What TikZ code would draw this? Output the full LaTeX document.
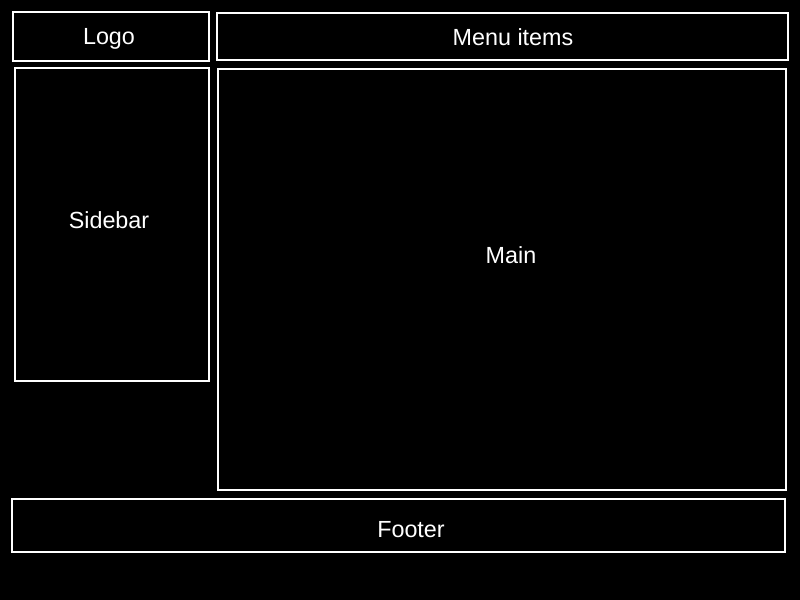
\documentclass[tikz,border=0pt]{standalone}
\usepackage{fontspec}
\setmainfont{Liberation Sans}
\begin{document}
\begin{tikzpicture}[x=0.75pt,y=-0.75pt,
  frame/.style={draw=white,line width=1.5pt,inner sep=0pt,outer sep=0pt},
  lbl/.style={text=white,font=\fontsize{17.5}{20}\selectfont,inner sep=0pt,anchor=base}]
\fill[black] (0,0) rectangle (800,600);
\useasboundingbox (0,0) rectangle (800,600);
\draw[frame] (13,12) rectangle (209,61);
\draw[frame] (217,13) rectangle (788,60);
\draw[frame] (15,68) rectangle (209,381);
\draw[frame] (218,69) rectangle (786,490);
\draw[frame] (12,499) rectangle (785,552);
\node[lbl] (logo) at (109,44) {Logo};
\node[lbl] (menu) at (513,45) {Menu items};
\node[lbl] (sidebar) at (109,228.5) {Sidebar};
\node[lbl] (main) at (511,263.5) {Main};
\node[lbl] (footer) at (411,537.5) {Footer};
\end{tikzpicture}
\end{document}
